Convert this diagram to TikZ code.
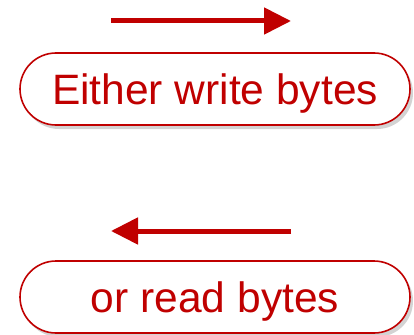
\documentclass[tikz,border=0pt]{standalone}
\usepackage{fontspec}
\setmainfont{Liberation Sans}
\usetikzlibrary{arrows.meta,shadows}
\definecolor{darkred}{HTML}{C00000}
\tikzset{
  pill/.style={draw=darkred, line width=1.6pt, fill=white, rounded corners=36pt,
    minimum width=390pt, minimum height=72pt, inner sep=0pt,
    text height=30pt, text depth=0pt,
    text=darkred, font=\fontsize{42.5}{42.5}\selectfont,
    drop shadow={shadow xshift=3pt, shadow yshift=-4pt, opacity=0.35, fill=gray}},
  flow/.style={draw=darkred, line width=5pt, -{Triangle[length=27pt,width=26pt]}}
}
\begin{document}
\begin{tikzpicture}[x=1pt,y=-1pt]
  \useasboundingbox (0,0) rectangle (414,334);
  % write direction
  \coordinate (w0) at (111,21);
  \coordinate (w1) at (291,21);
  \draw[flow] (w0) -- (w1);
  \node[pill] (write) at (215,89) {Either write bytes};
  % read direction
  \coordinate (r0) at (291,231);
  \coordinate (r1) at (111,231);
  \draw[flow] (r0) -- (r1);
  \node[pill] (read) at (215,297) {or read bytes};
\end{tikzpicture}
\end{document}
